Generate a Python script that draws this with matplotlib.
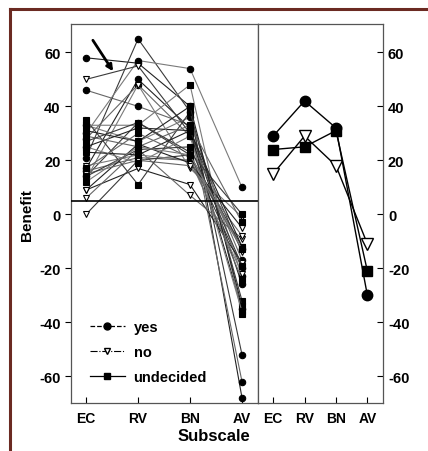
import matplotlib
matplotlib.use('Agg')
import matplotlib.pyplot as plt
from matplotlib.lines import Line2D

plt.rcParams['font.family'] = ['Liberation Sans', 'DejaVu Sans']
plt.rcParams['font.weight'] = 'bold'
plt.rcParams['axes.unicode_minus'] = False

subscales = ['EC', 'RV', 'BN', 'AV']

# individual subjects, values for EC, RV, BN, AV
yes_subjects = [
    [58, 56, 40, -68],
    [46, 40, 33, -62],
    [21, 65, 38, -52],
    [30, 57, 54, 10],
    [17, 50, 32, -26],
    [28, 48, 29, -17],
    [14, 34, 22, -20],
    [33, 27, 36, -23],
    [25, 32, 31, -35],
    [16, 21, 20, -13],
]
no_subjects = [
    [50, 55, 30, -14],
    [13, 48, 17, -1],
    [9, 17, 11, -18],
    [6, 24, 7, -9],
    [0, 20, 22, -12],
    [18, 22, 20, -22],
    [9, 26, 19, -5],
    [15, 20, 18, -8],
]
undecided_subjects = [
    [35, 11, 38, -32],
    [33, 33, 48, -37],
    [31, 27, 40, -34],
    [29, 25, 33, -3],
    [27, 34, 23, 0],
    [25, 19, 29, -36],
    [23, 22, 31, -12],
    [17, 30, 21, -24],
    [14, 24, 25, -19],
    [12, 25, 22, -13],
]

# group means (right panel)
yes_mean = [29, 42, 32, -30]
no_mean = [15, 29, 18, -11]
undecided_mean = [24, 25, 31, -21]

threshold = 5

fig = plt.figure(figsize=(4.28, 4.52), dpi=100)
ax1 = fig.add_axes([0.166, 0.106, 0.437, 0.8385])
ax2 = fig.add_axes([0.603, 0.106, 0.292, 0.8385])

x = range(len(subscales))
greys = ['#222222', '#666666', '#3a3a3a', '#7a7a7a']

groups = [
    (yes_subjects, 'o', 'black'),
    (no_subjects, 'v', 'white'),
    (undecided_subjects, 's', 'black'),
]
k = 0
for subjects, mk, fc in groups:
    for vals in subjects:
        ax1.plot(x, vals, color=greys[k % 4], lw=0.8, marker=mk, ms=4.6,
                 mfc=fc, mec='black', mew=0.8, zorder=2)
        k += 1

ax1.axhline(threshold, color='black', lw=1.2, zorder=3)
ax1.annotate('', xy=(0.52, 53), xytext=(0.13, 64.5),
             arrowprops=dict(arrowstyle='-|>', color='black', lw=2,
                             mutation_scale=9, shrinkA=0, shrinkB=0))

# legend
h_yes = Line2D([], [], color='black', ls='--', lw=0.9, marker='o', ms=5)
h_no = Line2D([], [], color='black', ls='-.', lw=0.8, marker='v', ms=5,
              mfc='white', mec='black')
h_und = Line2D([], [], color='black', ls='-', lw=0.9, marker='s', ms=5)
ax1.legend([h_yes, h_no, h_und], ['yes', 'no', 'undecided'],
           loc='lower left', bbox_to_anchor=(0.03, 0.015), frameon=False,
           fontsize=10.5, handlelength=2.4, handletextpad=0.6, labelspacing=0.75)

ax2.plot(x, yes_mean, color='black', lw=1, marker='o', ms=7.5, mfc='black', zorder=3)
ax2.plot(x, no_mean, color='black', lw=1, marker='v', ms=8.5, mfc='white',
         mec='black', mew=1, zorder=3)
ax2.plot(x, undecided_mean, color='black', lw=1, marker='s', ms=7.5, mfc='black', zorder=3)

for ax in (ax1, ax2):
    ax.set_ylim(-70, 70.5)
    ax.set_yticks([-60, -40, -20, 0, 20, 40, 60])
    ax.set_xticks(list(x))
    ax.set_xticklabels(subscales, fontsize=10, fontweight='bold')
    ax.tick_params(axis='x', direction='in', length=4, width=0.8, pad=6)
    for s in ax.spines.values():
        s.set_color('#555555')
        s.set_linewidth(0.9)

ax1.set_xlim(-0.29, 3.31)
ax2.set_xlim(-0.48, 3.5)

ax1.tick_params(axis='y', direction='out', length=4, width=0.8, labelsize=10.5,
                right=True)
for lab in ax1.get_yticklabels():
    lab.set_fontweight('bold')
ax2.tick_params(axis='y', direction='in', length=4, width=0.8, labelsize=10.5,
                left=False, right=True, labelleft=False, labelright=True)
for lab in ax2.get_yticklabels():
    lab.set_fontweight('bold')

ax1.set_ylabel('Benefit', fontsize=11, fontweight='bold', labelpad=4)
fig.text(0.5, 0.035, 'Subscale', ha='center', va='center', fontsize=12,
         fontweight='bold')

# scanned page frame
fig.add_artist(Line2D([0.023, 1.0], [0.978, 0.978], color='#6b2a22', lw=2.2))
fig.add_artist(Line2D([0.023, 0.023], [0.0, 0.978], color='#6b2a22', lw=2.2))

fig.savefig('out.png', dpi=100)
